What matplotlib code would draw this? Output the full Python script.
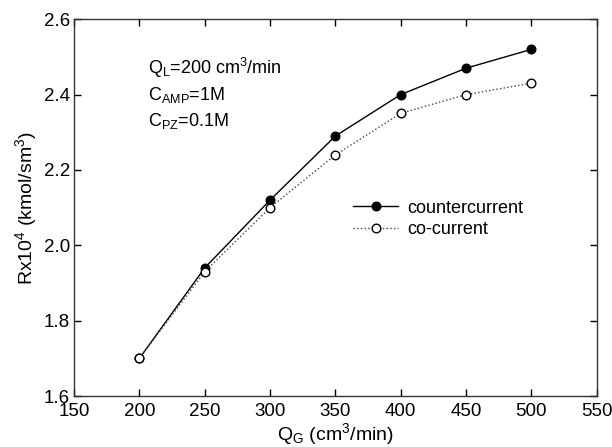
import matplotlib
matplotlib.use("Agg")
import matplotlib.pyplot as plt

plt.rcParams['font.family'] = ['Liberation Sans', 'DejaVu Sans']
plt.rcParams['mathtext.fontset'] = 'custom'
plt.rcParams['mathtext.rm'] = 'Liberation Sans'
plt.rcParams['mathtext.it'] = 'Liberation Sans'

qg = [200, 250, 300, 350, 400, 450, 500]
counter = [1.70, 1.94, 2.12, 2.29, 2.40, 2.47, 2.52]
cocurrent = [1.70, 1.93, 2.10, 2.24, 2.35, 2.40, 2.43]
xticks = [150, 200, 250, 300, 350, 400, 450, 500, 550]
yticks = [1.6, 1.8, 2.0, 2.2, 2.4, 2.6]

fig = plt.figure(figsize=(6.12, 4.47), dpi=100)
ax = fig.add_axes([0.121, 0.114, 0.854, 0.843])

ax.plot(qg, counter, '-', color='black', lw=1.0, marker='o', ms=6.2,
        mfc='black', mec='black', label='countercurrent', zorder=3)
ax.plot(qg, cocurrent, ':', color='#444444', lw=1.0, marker='o', ms=6.2,
        mfc='white', mec='black', mew=1.0, label='co-current', zorder=4)

ax.set_xlim(150, 550)
ax.set_ylim(1.6, 2.6)
ax.set_xticks(xticks)
ax.set_yticks(yticks)
ax.set_yticklabels([f"{v:.1f}" for v in yticks])
ax.tick_params(direction='in', top=True, right=True, labelsize=13.5, length=5,
               width=1.0, colors='black')
ax.tick_params(axis='x', pad=5)
ax.tick_params(axis='y', pad=3)
for s in ax.spines.values():
    s.set_linewidth(1.0)
    s.set_color('#333333')

ax.set_xlabel(r'Q$_\mathregular{G}$ (cm$^\mathregular{3}$/min)', fontsize=14, labelpad=1)
ax.set_ylabel(r'Rx10$^\mathregular{4}$ (kmol/sm$^\mathregular{3}$)', fontsize=14, labelpad=3)

ax.text(0.141, 0.87, r'Q$_\mathregular{L}$=200 cm$^\mathregular{3}$/min', transform=ax.transAxes,
        fontsize=13, va='center')
ax.text(0.141, 0.80, r'C$_\mathregular{AMP}$=1M', transform=ax.transAxes,
        fontsize=13, va='center')
ax.text(0.141, 0.73, r'C$_\mathregular{PZ}$=0.1M', transform=ax.transAxes,
        fontsize=13, va='center')

leg = ax.legend(loc='upper left', bbox_to_anchor=(0.52, 0.54), frameon=False,
                fontsize=13, handlelength=2.5, handletextpad=0.5, labelspacing=0.25,
                borderaxespad=0)

fig.savefig('out.png', dpi=100)
